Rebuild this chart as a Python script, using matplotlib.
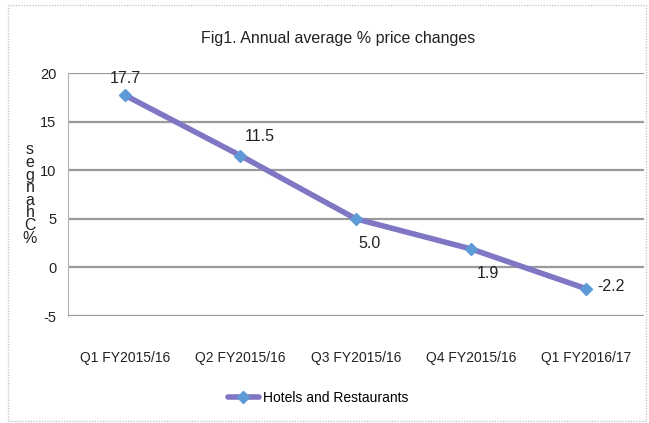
import matplotlib
matplotlib.use("Agg")
import matplotlib.pyplot as plt
from matplotlib.patches import Rectangle

categories = ["Q1 FY2015/16", "Q2 FY2015/16", "Q3 FY2015/16", "Q4 FY2015/16", "Q1 FY2016/17"]
values = [17.7, 11.5, 5.0, 1.9, -2.2]
value_labels = ["17.7", "11.5", "5.0", "1.9", "-2.2"]
series_name = "Hotels and Restaurants"
title = "Fig1. Annual average % price changes"
ylabel = "% Changes"
yticks = [-5, 0, 5, 10, 15, 20]

FONT = ["Liberation Sans Narrow", "Liberation Sans", "DejaVu Sans"]
plt.rcParams['font.family'] = FONT
plt.rcParams['axes.unicode_minus'] = False

fig = plt.figure(figsize=(6.49, 4.23), dpi=100)
W, H = 649, 423
ax = fig.add_axes([67.5 / W, 1 - 316 / H, (644 - 67.5) / W, (316 - 73) / H])

# outer chart border
fig.patches.append(Rectangle((8 / W, 2 / H), (646 - 8) / W, (418 - 2) / H,
                             transform=fig.transFigure, fill=False,
                             edgecolor="#c8c8c8", linewidth=1.0, linestyle=(0, (1, 1))))

x = list(range(len(categories)))
ax.plot(x, values, color="#7f76c4", linewidth=4, solid_capstyle="round",
        marker="D", markersize=6, markerfacecolor="#5d9ad6", markeredgecolor="#5d9ad6",
        label=series_name, zorder=3)

ax.set_xlim(-0.5, len(categories) - 0.5)
ax.set_ylim(-5, 20)
ax.set_yticks(yticks)
ax.set_xticks(x)
ax.set_xticklabels(categories, fontsize=10, color="#222222")
ax.tick_params(axis="x", length=0, pad=25)
ax.tick_params(axis="y", length=0, pad=8, labelsize=10.5, labelcolor="#222222")

for yv in yticks:
    ax.axhline(yv, color="#9a9a9a", linewidth=1.6, zorder=1)
for s in ["top", "right", "bottom"]:
    ax.spines[s].set_visible(False)
ax.spines["left"].set_color("#b0b0b0")
ax.spines["left"].set_linestyle((0, (1, 1)))

offsets = [(0, 12), (14, 14), (10, -18), (12, -18), (18, 2)]
for xi, v, lab, off in zip(x, values, value_labels, offsets):
    ax.annotate(lab, (xi, v), xytext=off, textcoords="offset points",
                ha="center", va="center", fontsize=11.5, color="#222222")

fig.text(338 / W, 1 - 38 / H, title, ha="center", va="center", fontsize=11.5, color="#222222")

# stacked y label (letters upright, reading bottom-to-top)
stacked = "\n".join(reversed(ylabel.replace(" ", "")))
fig.text(30 / W, 1 - 194 / H, stacked, ha="center", va="center", fontsize=11.5,
         linespacing=0.8, color="#222222")

fig.legend(loc="center", bbox_to_anchor=(318 / W, 1 - 398 / H), frameon=False,
           fontsize=10, handlelength=2.2, handletextpad=0.3)

fig.savefig("out.png", dpi=100)
